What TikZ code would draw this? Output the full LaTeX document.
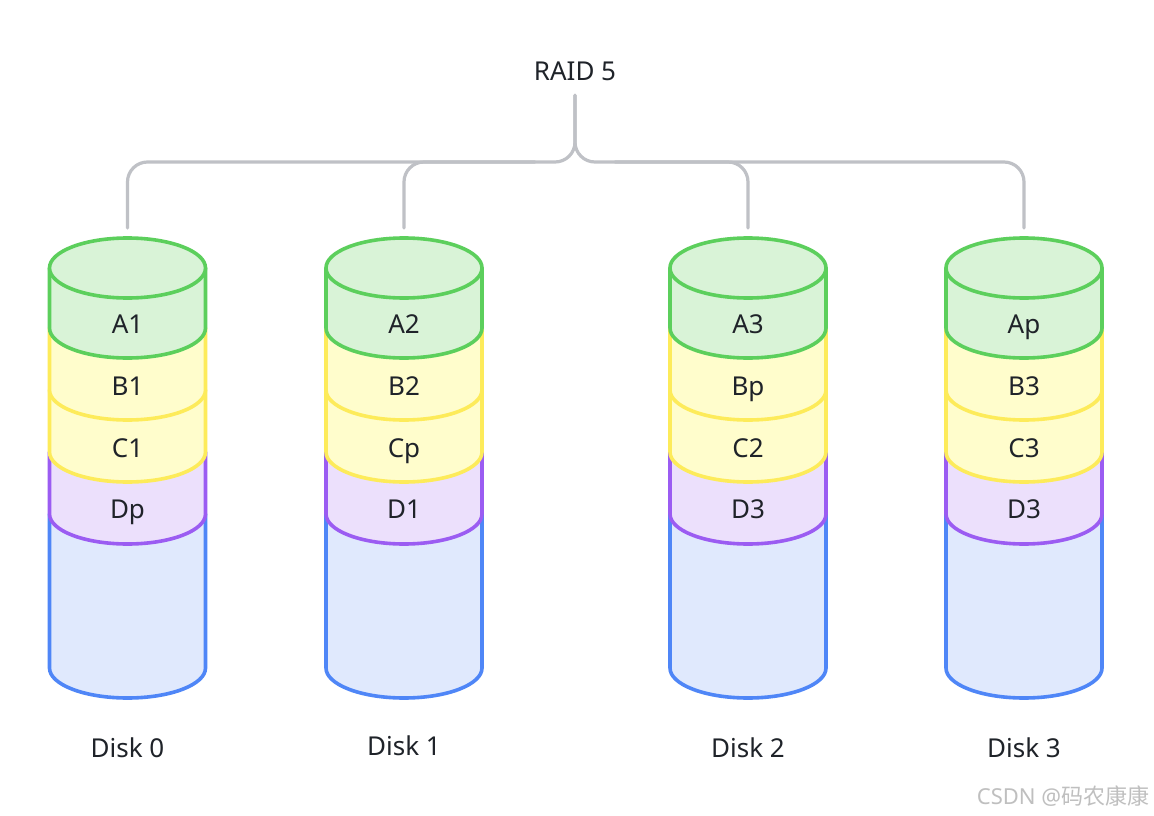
\documentclass[tikz,border=0pt]{standalone}
\usepackage{fontspec}
\setmainfont{Noto Sans}
\newfontfamily\cjk{Noto Sans CJK SC}
\usepackage{xcolor}

\definecolor{txt}{HTML}{1F2329}
\definecolor{wire}{HTML}{BFC1C6}
\definecolor{grnline}{HTML}{5CCF5C}
\definecolor{grnfill}{HTML}{D9F3D7}
\definecolor{ylwline}{HTML}{FDEB5A}
\definecolor{ylwfill}{HTML}{FFFDCC}
\definecolor{prpline}{HTML}{9B5CF2}
\definecolor{prpfill}{HTML}{ECE0FC}
\definecolor{bluline}{HTML}{4F86F7}
\definecolor{blufill}{HTML}{E0E9FD}

% one slice of a disk: x, top y, bottom y, style
\newcommand{\slice}[4]{%
  \filldraw[#4] (#1-78,#2) -- (#1-78,#3) arc[start angle=180,end angle=0,x radius=78,y radius=30] -- (#1+78,#2) -- cycle;
}

\tikzset{
  lbl/.style={text=txt,font=\fontsize{26}{30}\selectfont,inner sep=0pt,anchor=base},
  link/.style={draw=wire,line width=3.2pt,rounded corners=20pt,line cap=round},
  grn/.style={draw=grnline,fill=grnfill,line width=3.6pt,line join=round},
  ylw/.style={draw=ylwline,fill=ylwfill,line width=3.6pt,line join=round},
  prp/.style={draw=prpline,fill=prpfill,line width=3.6pt,line join=round},
  blu/.style={draw=bluline,fill=blufill,line width=3.6pt,line join=round}
}

\begin{document}
\begin{tikzpicture}[x=1pt,y=-1pt]
\useasboundingbox[fill=white] (0,0) rectangle (1154,816);

\node[lbl,outer ysep=14pt] (raid) at (575,81) {RAID 5};
\coordinate (hub) at (575,162);

% disks
\foreach \x/\n/\a/\b/\c/\d/\yl in {127.5/0/A1/B1/C1/Dp/757,404/1/A2/B2/Cp/D1/755,748/2/A3/Bp/C2/D3/757,1024/3/Ap/B3/C3/D3/757}{
  \slice{\x}{514}{668}{blu}
  \slice{\x}{452}{514}{prp}
  \slice{\x}{390}{452}{ylw}
  \slice{\x}{328}{390}{ylw}
  \slice{\x}{268}{328}{grn}
  \filldraw[grn] (\x,268) ellipse[x radius=78,y radius=30];
  \node[lbl] at (\x,333) {\a};
  \node[lbl] at (\x,395) {\b};
  \node[lbl] at (\x,457) {\c};
  \node[lbl] at (\x,518) {\d};
  \node[lbl] (disk\n) at (\x,\yl) {Disk \n};
  \coordinate (t\n) at (\x,228);
}

% tree from RAID 5 to the disks
\draw[link] (raid.south) -- (hub) -| (t0);
\draw[link] (raid.south) -- (hub) -| (t3);
\draw[link] ([xshift=-40pt]hub) -| (t1);
\draw[link] ([xshift=40pt]hub) -| (t2);

\node[text=black!25,font=\fontsize{22}{24}\selectfont,inner sep=0pt] (mark) at (1063,796) {CSDN @{\cjk 码农康康}};
\end{tikzpicture}
\end{document}
